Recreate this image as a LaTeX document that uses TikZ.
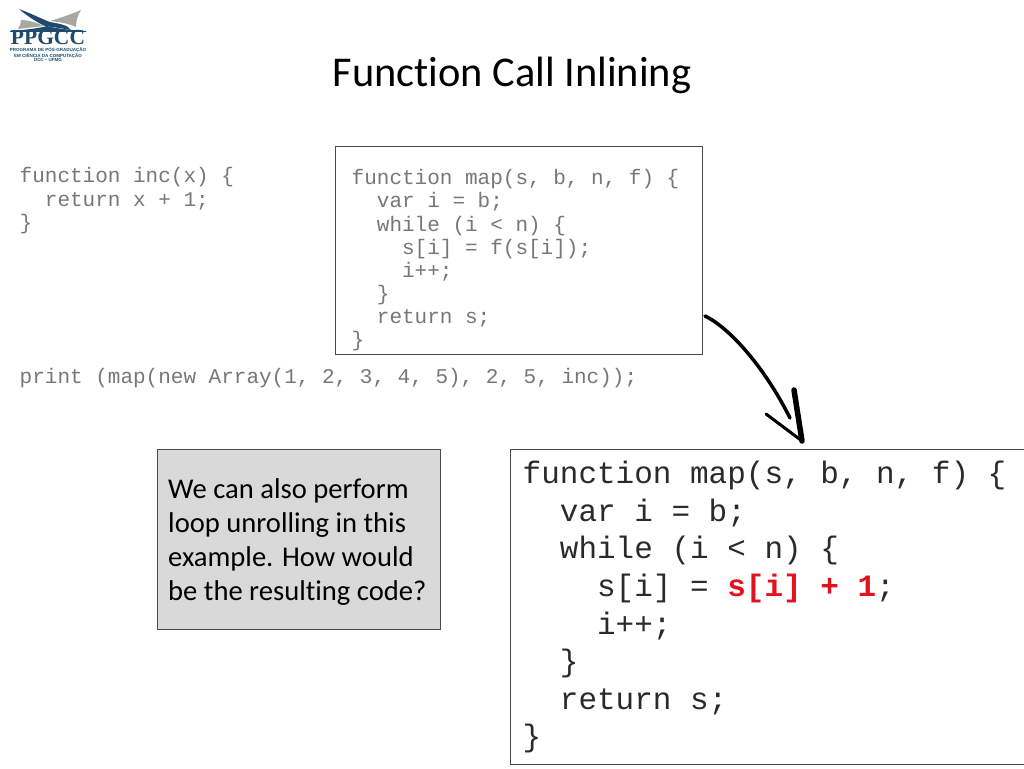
\documentclass[tikz,border=0pt]{standalone}
\usepackage{fontspec}
\setmainfont[Ligatures=NoCommon]{Carlito}
\setmonofont{Liberation Mono}
\newfontfamily\logoserif{Liberation Serif}
\newfontfamily\logosans{Liberation Sans}
\definecolor{logoblue}{HTML}{1F4A6E}
\definecolor{logogray}{HTML}{A8A8A0}
\definecolor{codegray}{HTML}{777777}
\definecolor{bigink}{HTML}{2A2A2A}
\definecolor{boxline}{HTML}{4A4A4A}
\definecolor{boxfill}{HTML}{D9D9D9}
\definecolor{hot}{HTML}{E0141E}
\tikzset{
  x=1pt,y=-1pt,
  smallcode/.style={anchor=base west,inner sep=0pt,text=codegray,font=\fontsize{21}{21}\ttfamily},
  bigcode/.style={anchor=base west,inner sep=0pt,text=bigink,font=\fontsize{31}{31}\ttfamily},
  note/.style={anchor=base west,inner sep=0pt,text=black,font=\fontsize{28.6}{28.6}\selectfont},
  panel/.style={draw=boxline,line width=1pt},
  logotext/.style={anchor=base,inner sep=0pt,text=logoblue,font=\fontsize{4.5}{4.5}\logosans\bfseries},
}
\begin{document}
\begin{tikzpicture}
\useasboundingbox (0,0) rectangle (1024,768);
% logo
\fill[logoblue] (19,9) .. controls (30,13) and (42,19) .. (50,22) .. controls (60,24) and (68,25) .. (71,30) .. controls (60,28) and (52,27) .. (45,26) .. controls (36,22) and (26,15) .. (19,9) -- cycle;
\fill[logogray] (50,21) .. controls (60,18) and (72,14) .. (81,10) .. controls (78,15) and (76,20) .. (76,27) .. controls (70,24) and (60,22) .. (50,21) -- cycle;
\fill[logogray] (21,20) .. controls (28,20) and (38,23) .. (44,26) .. controls (36,27) and (26,28) .. (18,29) .. controls (20,26) and (21,23) .. (21,20) -- cycle;
\fill[logoblue] (10,31) .. controls (26,30) and (40,28) .. (47,26) .. controls (58,29) and (72,30) .. (86,31) -- (86,32) -- (10,32) -- cycle;
\node[inner sep=0pt,anchor=base,text=logoblue,font=\fontsize{21.5}{21.5}\logoserif\bfseries] (logoname) at (48,44.5) {PPGCC};
\node[logotext] (logoa) at (48,51.5) {PROGRAMA DE PÓS-GRADUAÇÃO};
\node[logotext] (logob) at (48,57) {EM CIÊNCIA DA COMPUTAÇÃO};
\node[logotext] (logoc) at (48,62) {DCC – UFMG};
% title
\node[inner sep=0pt,anchor=base,text=black,font=\fontsize{42.4}{42.4}\selectfont] (title) at (512,86.5) {Function Call Inlining};
% left code
\node[smallcode] (inca) at (19.5,182.7) {function inc(x) \{};
\node[smallcode] (incb) at (19.5,206.2) {\ \ return x + 1;};
\node[smallcode] (incc) at (19.5,229.7) {\}};
\node[smallcode] (prn) at (19.5,383.7) {print (map(new Array(1, 2, 3, 4, 5), 2, 5, inc));};
% small box
\draw[panel] (335,146) rectangle (702,354);
\foreach \n/\yy/\t in {a/184.7/{function map(s, b, n, f) \{},
  b/207.7/{\ \ var i = b;},
  c/231.2/{\ \ while (i < n) \{},
  d/254.7/{\ \ \ \ s[i] = f(s[i]);},
  e/277.7/{\ \ \ \ i++;},
  f/300.7/{\ \ \}},
  g/323.7/{\ \ return s;},
  h/346.7/{\}}}
  \node[smallcode] (map\n) at (351.5,\yy) {\t};
% note box
\draw[panel,fill=boxfill] (157,449) rectangle (440,629);
\node[note] (notea) at (168,498.5) {We can also perform};
\node[note] (noteb) at (168,532.5) {loop unrolling in this};
\node[note] (notec) at (168,566.5) {example. How would};
\node[note] (noted) at (168,600.5) {be the resulting code?};
% big box
\draw[panel] (510,449) rectangle (1024,764);
\node[bigcode] (biga) at (522.5,483) {function map(s, b, n, f) \{};
\node[bigcode] (bigb) at (522.5,521) {\ \ var i = b;};
\node[bigcode] (bigc) at (522.5,558.5) {\ \ while (i < n) \{};
\node[bigcode] (bigd) at (522.5,596.5) {\ \ \ \ s[i] = \textcolor{hot}{\textbf{s[i] + 1}};};
\node[bigcode] (bige) at (522.5,634) {\ \ \ \ i++;};
\node[bigcode] (bigf) at (522.5,671.5) {\ \ \}};
\node[bigcode] (bigg) at (522.5,709) {\ \ return s;};
\node[bigcode] (bigh) at (522.5,746.5) {\}};
% arrow
\coordinate (arrs) at (705,316);
\coordinate (arre) at (790,418);
\coordinate (tip) at (802,441);
\coordinate (barbthick) at (794,390);
\coordinate (barbthin) at (766,414);
\draw[line width=3.5pt,line cap=round] (arrs) .. controls (730,328) and (765,368) .. (arre);
\draw[line width=5.5pt,line cap=round] (barbthick) -- (tip);
\draw[line width=3pt,line cap=round] (barbthin) -- (tip);
\end{tikzpicture}
\end{document}
